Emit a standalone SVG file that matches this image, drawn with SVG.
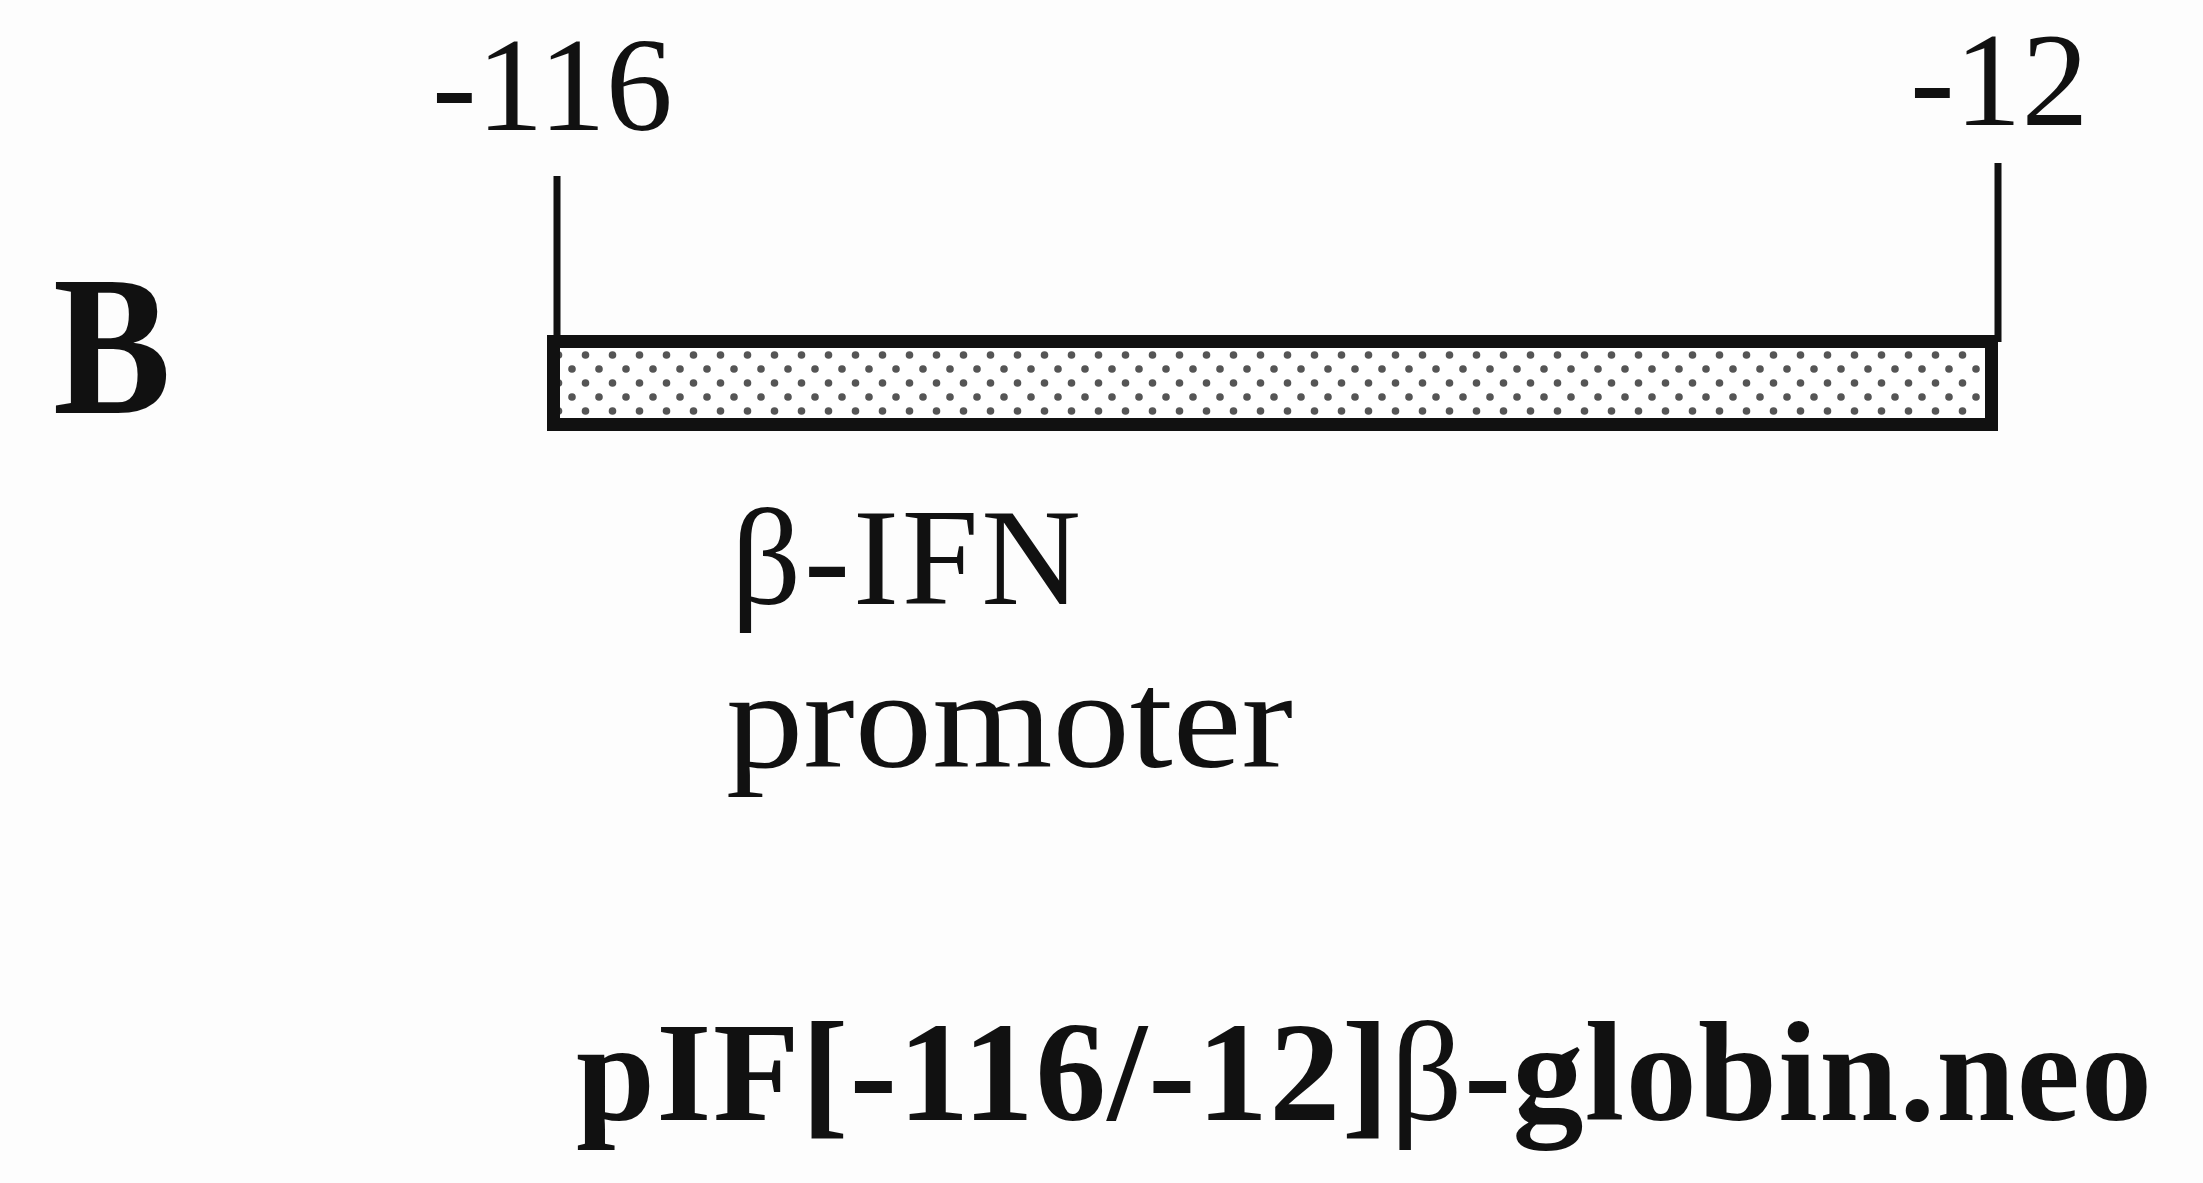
<svg xmlns="http://www.w3.org/2000/svg" width="2203" height="1183" viewBox="0 0 2203 1183">
  <style>
    .t { font-family: "Liberation Serif", "Times New Roman", serif; fill: #111; }
    .b { font-weight: bold; }
    .line { stroke: #111; stroke-width: 7; fill: none; }
    .bar { fill: url(#stipple); stroke: #111; stroke-width: 13; }
  </style>
  <defs>
    <pattern id="stipple" patternUnits="userSpaceOnUse" x="0" y="0" width="27" height="28">
      <rect width="27" height="28" fill="#fff"/>
      <circle cx="5" cy="5" r="3.8" fill="#555"/>
      <circle cx="18.5" cy="19" r="3.8" fill="#555"/>
    </pattern>
  </defs>
  <rect width="2203" height="1183" fill="#fdfdfd"/>

  <g id="panel-label">
    <text class="t b" x="53" y="413" font-size="200" textLength="118" lengthAdjust="spacingAndGlyphs">B</text>
  </g>

  <g id="connectors">
    <line class="line" x1="557" y1="176" x2="557" y2="342"/>
    <line class="line" x1="1998" y1="163" x2="1998" y2="342"/>
  </g>

  <g id="position-116">
    <text class="t" x="432" y="130" font-size="134">-116</text>
  </g>
  <g id="position-12">
    <text class="t" x="1910" y="125" font-size="134">-12</text>
  </g>

  <g id="promoter-bar">
    <rect class="bar" x="553.5" y="341.5" width="1438" height="83"/>
  </g>

  <g id="promoter-label">
    <text class="t" x="731" y="604" font-size="138" textLength="350">β-IFN</text>
    <text class="t" x="726" y="767" font-size="140" textLength="567" lengthAdjust="spacingAndGlyphs">promoter</text>
  </g>

  <g id="construct-name">
    <text class="t b" x="576" y="1120" font-size="142" textLength="1576">pIF[-116/-12]<tspan font-weight="normal">β</tspan>-globin.neo</text>
  </g>
</svg>
